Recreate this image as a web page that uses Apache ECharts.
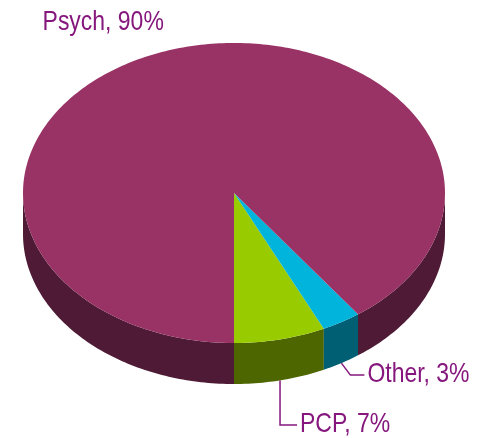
<!DOCTYPE html>
<html>
<head>
<meta charset="utf-8">
<script src="https://cdn.jsdelivr.net/npm/echarts@6/dist/echarts.min.js"></script>
<style>
  html, body { margin: 0; padding: 0; background: #fff; }
  #grafico { width: 479px; height: 438px; }
</style>
</head>
<body>
<div id="grafico"></div>
<script>
// datos del grafico (empieza abajo y gira hacia la derecha)
const categorias = ["PCP", "Other", "Psych"];
const valores = [7, 3, 90];
const etiquetas = ["PCP, 7%", "Other, 3%", "Psych, 90%"];

const coloresTapa = ["#99CC00", "#00B4DC", "#993366"];
const coloresLado = ["#4D6600", "#005F73", "#4E1A35"];
const colorTexto = "#85177D";

const total = valores.reduce((a, b) => a + b, 0);
const acumulado = [];
valores.reduce((suma, v, i) => { acumulado[i] = suma; return suma + v; }, 0);

// geometria de la tarta
const cx = 234, cy = 193, rx = 211, ry = 150, alto = 41;
const rad = Math.PI / 180;

function punto(t, dy) {
    return [cx + rx * Math.cos(t * rad), cy + ry * Math.sin(t * rad) + (dy || 0)];
}

function arco(desde, hasta, dy) {
    const pts = [];
    const pasos = Math.max(2, Math.ceil(Math.abs(hasta - desde)));
    for (let k = 0; k <= pasos; k++) {
        pts.push(punto(desde + (hasta - desde) * k / pasos, dy));
    }
    return pts;
}

// texto estrecho: fuente normal comprimida en horizontal
function texto(txt, x, y, align) {
    return {
        type: "text", z2: 10,
        x: x, y: y, scaleX: 0.82, scaleY: 1,
        style: {
            text: txt, x: 0, y: 0, align: align, verticalAlign: "middle",
            font: "28px 'Liberation Sans', Arial, sans-serif", fill: colorTexto
        }
    };
}

function renderItem(params, api) {
    const i = params.dataIndex;
    const v = api.value(0);
    const a = 90 - 360 * acumulado[i] / total;
    const b = a - 360 * v / total;
    const hijos = [];

    // lado frontal visible (sin t > 0)
    for (let k = -1; k <= 1; k++) {
        const lo = Math.max(b, 360 * k);
        const hi = Math.min(a, 180 + 360 * k);
        if (lo < hi) {
            const arriba = arco(hi, lo, 0);
            const abajo = arco(lo, hi, alto);
            hijos.push({
                type: "polygon",
                z2: 1,
                shape: { points: arriba.concat(abajo) },
                style: { fill: coloresLado[i] }
            });
        }
    }

    // tapa
    hijos.push({
        type: "polygon",
        z2: 5,
        shape: { points: [[cx, cy]].concat(arco(a, b, 0)) },
        style: { fill: coloresTapa[i] }
    });

    // etiqueta
    const medio = (a + b) / 2;
    if (i === 2) {
        const p = punto(medio, 0);
        hijos.push(texto(etiquetas[i], p[0] - 5, p[1] - 28, "right"));
    } else {
        const p = punto(medio, alto);
        let linea, fin;
        if (i === 1) {
            fin = [p[0] + 23, p[1] + 12];
            linea = [p, [p[0] + 9, p[1] + 12], fin];
        } else {
            fin = [p[0] + 17, 425];
            linea = [p, [p[0], 425], fin];
        }
        hijos.push({
            type: "polyline", z2: 10,
            shape: { points: linea },
            style: { stroke: colorTexto, lineWidth: 1.5, fill: null }
        });
        hijos.push(texto(etiquetas[i], fin[0] + 3, fin[1] - 1, "left"));
    }

    return { type: "group", children: hijos };
}

const contenedor = document.getElementById("grafico");
const miGrafico = echarts.init(contenedor, null, { renderer: "canvas" });

miGrafico.setOption({
    backgroundColor: "#ffffff",
    animation: false,
    series: [
        {
            type: "custom",
            coordinateSystem: "none",
            renderItem: renderItem,
            data: valores.map((v, i) => ({ name: categorias[i], value: [v] }))
        }
    ]
});
</script>
</body>
</html>
